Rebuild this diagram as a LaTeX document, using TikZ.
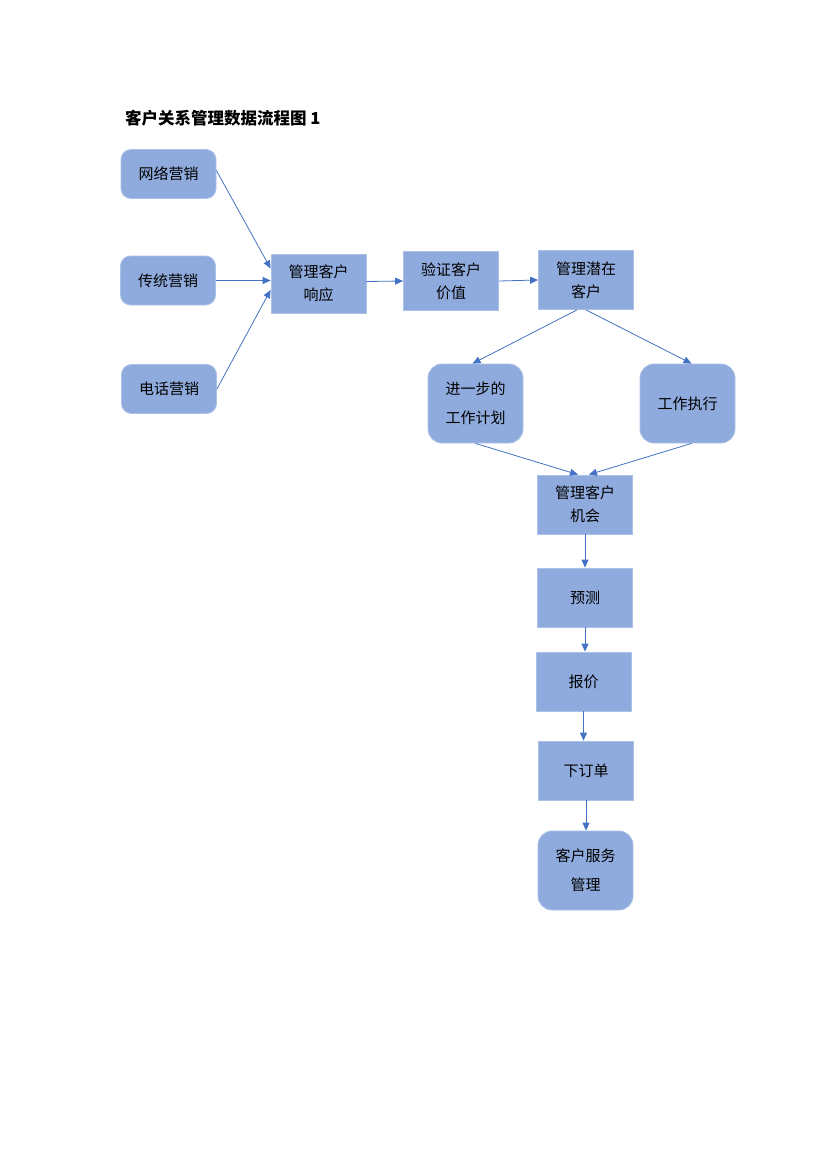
\documentclass[tikz,border=0pt]{standalone}
\usepackage{fontspec}
\setmainfont{Noto Sans CJK SC}
\usetikzlibrary{arrows.meta}
\definecolor{boxblue}{RGB}{143,170,220}
\definecolor{boxline}{RGB}{172,193,232}
\definecolor{arrowblue}{RGB}{68,114,196}

\begin{document}
\begin{tikzpicture}[x=1pt,y=-1pt,
	box/.style={draw=boxline,fill=boxblue,line width=0.8pt,minimum width=95pt,minimum height=59pt,inner sep=0pt,align=center,font=\fontsize{15}{23}\selectfont},
	rbox/.style={box,rounded corners=10pt,minimum height=49pt},
	tallbox/.style={box,rounded corners=14pt,minimum height=79pt,font=\fontsize{15}{29}\selectfont},
	link/.style={draw=arrowblue,line width=0.8pt,-{Triangle[length=8pt,width=7pt]}}]
\fill[white] (0,0) rectangle (830,1174);
\useasboundingbox (0,0) rectangle (830,1174);

\node[anchor=west,inner sep=0pt,font=\fontsize{16.5}{16.5}\selectfont\bfseries] (title) at (125,118) {客户关系管理数据流程图 1};

% marketing channels
\node[rbox] (web) at (168.5,174) {网络营销};
\node[rbox] (trad) at (168,280.5) {传统营销};
\node[rbox] (phone) at (169,389) {电话营销};

\node[box] (resp) at (318.5,283.5) {管理客户\\响应};
\node[box] (value) at (451,281) {验证客户\\价值};
\node[box] (lead) at (586,280) {管理潜在\\客户};

\node[tallbox] (plan) at (475.5,403.5) {进一步的\\工作计划};
\node[tallbox] (exec) at (687.5,403.5) {工作执行};

\node[box] (chance) at (585,504.5) {管理客户\\机会};
\node[box] (forecast) at (585,597.5) {预测};
\node[box] (quote) at (583.5,681.5) {报价};
\node[box] (order) at (586,770.5) {下订单};
\node[tallbox] (service) at (585.5,870.5) {客户服务\\管理};

\draw[link] ([yshift=3.5pt]web.east) -- ([yshift=15pt]resp.west);
\draw[link] (trad.east) -- (trad.east -| resp.west);
\draw[link] (phone.east) -- ([yshift=-6.5pt]resp.west);
\draw[link] ([yshift=2pt]resp.east) -- (value.west);
\draw[link] (value.east) -- (lead.west);

\draw[link] ([xshift=-9pt]lead.south) -- ([xshift=-3pt]plan.north);
\draw[link] (lead.south) -- ([xshift=4pt]exec.north);
\draw[link] (plan.south) -- ([xshift=-7pt]chance.north);
\draw[link] ([xshift=4pt]exec.south) -- ([xshift=4pt]chance.north);

\foreach \a/\b in {chance/forecast,forecast/quote,quote/order,order/service}{
	\draw[link] (\a.south) -- (\a.south |- \b.north);
}
\end{tikzpicture}
\end{document}
